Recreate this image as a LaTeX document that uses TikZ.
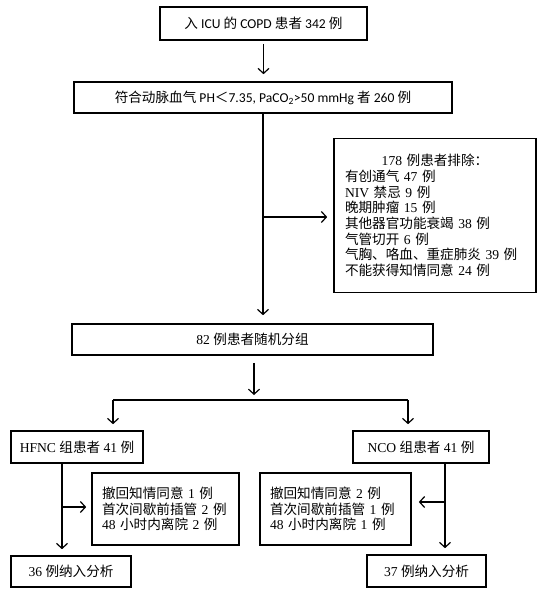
\documentclass[tikz,border=0pt]{standalone}
\usepackage{fontspec}
\setmainfont{Liberation Serif}
\newfontfamily\cjk{Noto Sans CJK SC}
\newfontfamily\calib{Carlito}
\usetikzlibrary{arrows.meta}
\newcommand{\zh}[1]{{\cjk #1}}
\begin{document}
\begin{tikzpicture}[x=1pt,y=-1pt,
  box/.style={draw,line width=1.6pt,inner sep=0pt,align=center,font=\fontsize{13.6}{15.7}\selectfont},
  sansbox/.style={box,font=\calib\fontsize{13.6}{15.7}\selectfont},
  listbox/.style={box,align=left,inner xsep=10pt},
  arr/.style={line width=1.2pt,-{Straight Barb[length=5pt,width=11pt]}},
  ln/.style={line width=1.2pt}]
\useasboundingbox (0,0) rectangle (546,597);
% boxes
\node[sansbox,minimum width=207pt,minimum height=33pt] (b1) at (263.5,23.5)
  {\zh{入} ICU \zh{的} COPD \zh{患者} 342 \zh{例}};
\node[sansbox,minimum width=378pt,minimum height=31pt] (b2) at (263,97.5)
  {\zh{符合动脉血气} PH\zh{＜}7.35, PaCO\textsubscript{2}>50 mmHg \zh{者} 260 \zh{例}};
\node[listbox,inner xsep=11pt,text width=180pt,minimum height=154pt] (ex) at (435,215.5)
  {\makebox[180pt][c]{178 \zh{例患者排除：}}\\
   \zh{有创通气} 47 \zh{例}\\
   NIV \zh{禁忌} 9 \zh{例}\\
   \zh{晚期肿瘤} 15 \zh{例}\\
   \zh{其他器官功能衰竭} 38 \zh{例}\\
   \zh{气管切开} 6 \zh{例}\\
   \zh{气胸、咯血、重症肺炎} 39 \zh{例}\\
   \zh{不能获得知情同意} 24 \zh{例}};
\node[box,minimum width=361pt,minimum height=31pt] (b3) at (252.5,339.5)
  {82 \zh{例患者随机分组}};
\node[box,minimum width=132pt,minimum height=32pt] (hf) at (77,447)
  {HFNC \zh{组患者} 41 \zh{例}};
\node[box,minimum width=136pt,minimum height=32pt] (nc) at (421,447)
  {NCO \zh{组患者} 41 \zh{例}};
\node[listbox,text width=127pt,minimum height=72pt] (exl) at (165.5,509)
  {\zh{撤回知情同意} 1 \zh{例}\\
   \zh{首次间歇前插管} 2 \zh{例}\\
   48 \zh{小时内离院} 2 \zh{例}};
\node[listbox,text width=131pt,minimum height=72pt] (exr) at (335.5,509)
  {\zh{撤回知情同意} 2 \zh{例}\\
   \zh{首次间歇前插管} 1 \zh{例}\\
   48 \zh{小时内离院} 1 \zh{例}};
\node[box,minimum width=120pt,minimum height=31pt] (b36) at (71,571.5)
  {36 \zh{例纳入分析}};
\node[box,minimum width=119pt,minimum height=32pt] (b37) at (426.5,571)
  {37 \zh{例纳入分析}};
% junctions
\coordinate (j1) at (263,217);
\coordinate (sp) at (254,400);
\coordinate (spL) at (113,400);
\coordinate (spR) at (408,400);
\coordinate (hx) at (62,507);
\coordinate (nx) at (445,502);
% connectors
\draw[arr,shorten <=3pt,shorten >=7pt] (b1.south) -- (b1.south |- b2.north);
\draw[arr,shorten >=8pt] (b2.south) -- (b2.south |- b3.north);
\draw[arr,shorten >=6pt] (j1) -- (j1 -| ex.west);
\draw[arr,shorten <=7pt,shorten >=5pt] (sp |- b3.south) -- (sp);
\draw[ln] (spL) -- (spR);
\draw[arr,shorten >=6pt] (spL) -- (spL |- hf.north);
\draw[arr,shorten >=6pt] (spR) -- (spR |- nc.north);
\draw[arr,shorten >=6pt] (hx |- hf.south) -- (hx |- b36.north);
\draw[arr,shorten >=5pt] (hx) -- (hx -| exl.west);
\draw[arr,shorten >=6pt] (nx |- nc.south) -- (nx |- b37.north);
\draw[arr,shorten >=7pt] (nx) -- (nx -| exr.east);
\end{tikzpicture}
\end{document}
